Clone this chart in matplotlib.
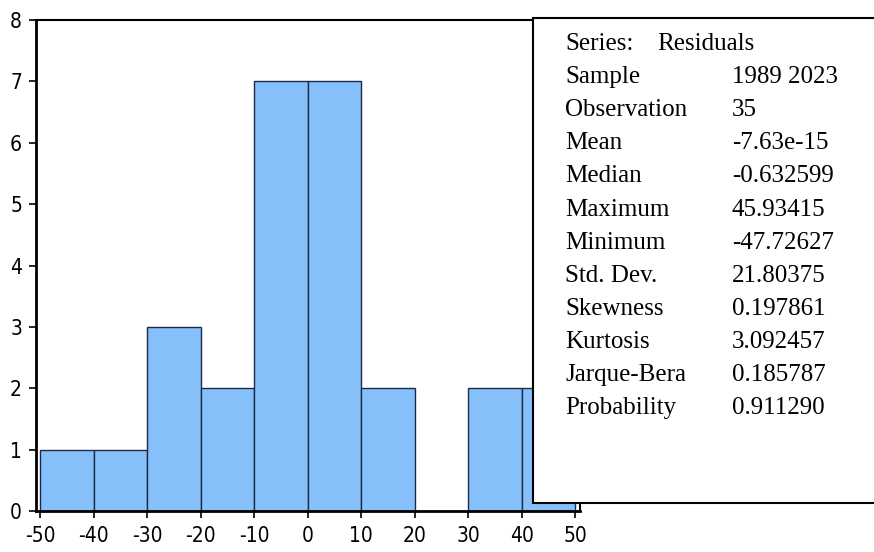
import matplotlib
matplotlib.use("Agg")
import matplotlib.pyplot as plt
from matplotlib.patches import Rectangle
from matplotlib import font_manager

# histogram of residuals
bin_left = [-50, -40, -30, -20, -10, 0, 10, 20, 30, 40]
counts = [1, 1, 3, 2, 7, 7, 2, 0, 2, 2]
x_ticks = [-50, -40, -30, -20, -10, 0, 10, 20, 30, 40, 50]
y_ticks = [0, 1, 2, 3, 4, 5, 6, 7, 8]

stat_names = ["Sample", "Observation", "Mean", "Median", "Maximum", "Minimum",
              "Std. Dev.", "Skewness", "Kurtosis", "Jarque-Bera", "Probability"]
stat_values = ["1989 2023", "35", "-7.63e-15", "-0.632599", "45.93415", "-47.72627",
               "21.80375", "0.197861", "3.092457", "0.185787", "0.911290"]

W, H = 874, 552
fig = plt.figure(figsize=(W / 100, H / 100), dpi=100)
ax = fig.add_axes([36 / W, 41 / H, (580 - 36) / W, (511 - 20) / H])

ax.bar(bin_left, counts, width=10, align="edge", color="#85c0fb",
       edgecolor="#1c2b48", linewidth=1.0)

ax.set_xlim(-50.75, 50.9)
ax.set_ylim(0, 8)
ax.set_xticks(x_ticks)
ax.set_yticks(y_ticks)

# narrow font for the ticks if there is one
cond = font_manager.FontProperties(family="DejaVu Sans", stretch="condensed", size=15)
if "Condensed" not in font_manager.findfont(cond):
    cond = font_manager.FontProperties(family="Liberation Sans", size=12.5)
ax.set_xticklabels([str(v) for v in x_ticks], fontproperties=cond)
ax.set_yticklabels([str(v) for v in y_ticks], fontproperties=cond)
ax.tick_params(direction="out", length=5, width=1.2)
ax.tick_params(axis="x", pad=6)
ax.tick_params(axis="y", pad=5)

for side in ["left", "bottom"]:
    ax.spines[side].set_linewidth(2)
for side in ["top", "right"]:
    ax.spines[side].set_linewidth(1.5)

# statistics box on top of the plot
box = Rectangle((533 / W, 49 / H), 1, (503 - 18) / H, transform=fig.transFigure,
                facecolor="white", edgecolor="black", linewidth=1.5, zorder=5)
fig.add_artist(box)

serif = ["Liberation Serif", "DejaVu Serif"]
fs = 18
row_step = 33.1
y0 = 44
fig.text(565 / W, 1 - y0 / H, "Series:", family=serif, size=fs, va="center", zorder=6)
fig.text(657 / W, 1 - y0 / H, "Residuals", family=serif, size=fs, va="center", zorder=6)
for i, (name, val) in enumerate(zip(stat_names, stat_values)):
    yy = 1 - (y0 + (i + 1) * row_step) / H
    fig.text(565 / W, yy, name, family=serif, size=fs, va="center", zorder=6)
    fig.text(732 / W, yy, val, family=serif, size=fs, va="center", zorder=6)

fig.savefig("out.png", dpi=100)
